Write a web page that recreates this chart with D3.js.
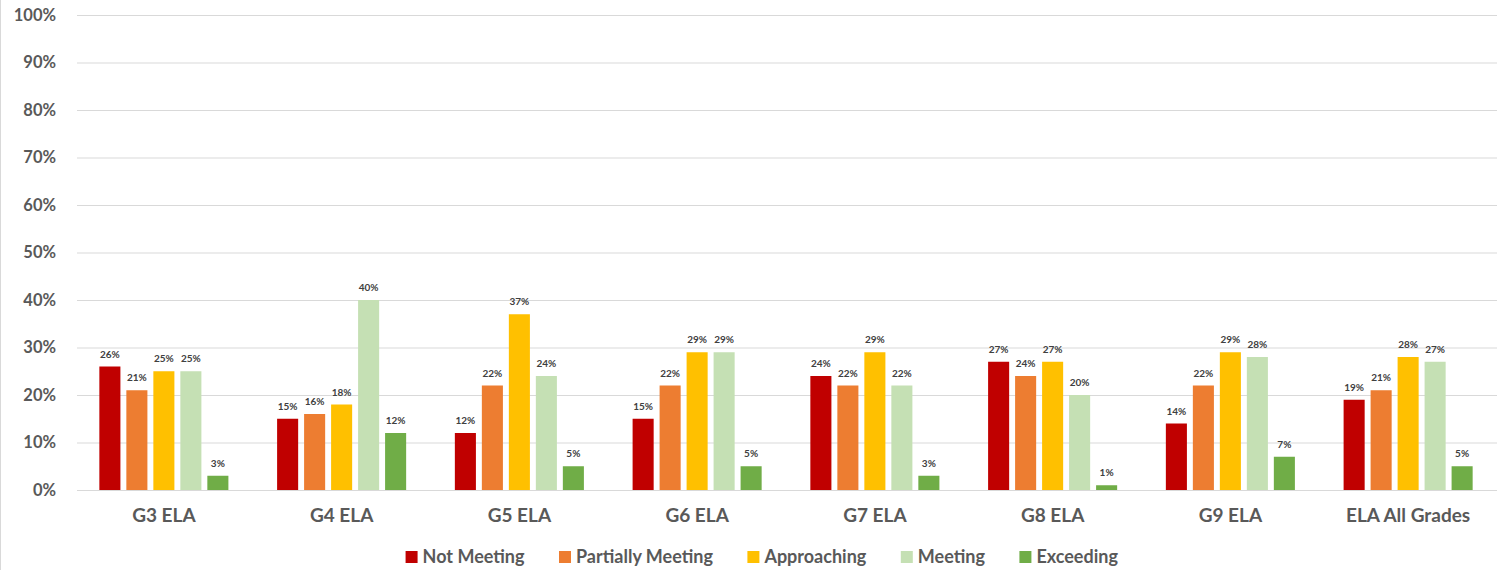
<!DOCTYPE html>
<html>
<head>
<meta charset="utf-8">
<script src="https://cdn.jsdelivr.net/npm/d3@7"></script>
<style>
  html, body { margin: 0; padding: 0; background: #ffffff; }
  svg { display: block; font-family: Lato, "Open Sans", sans-serif; }
</style>
</head>
<body>
<svg id="chart" width="1497" height="570"></svg>
<script>
// Grade-level ELA performance, percent of students in each band
const categories = ["G3 ELA", "G4 ELA", "G5 ELA", "G6 ELA", "G7 ELA", "G8 ELA", "G9 ELA", "ELA All Grades"];
const seriesNames = ["Not Meeting", "Partially Meeting", "Approaching", "Meeting", "Exceeding"];
const seriesColors = ["#C00000", "#ED7D31", "#FFC000", "#C5E0B4", "#70AD47"];

const notMeeting       = [26, 15, 12, 15, 24, 27, 14, 19];
const partiallyMeeting = [21, 16, 22, 22, 22, 24, 22, 21];
const approaching      = [25, 18, 37, 29, 29, 27, 29, 28];
const meeting          = [25, 40, 24, 29, 22, 20, 28, 27];
const exceeding        = [3, 12, 5, 5, 3, 1, 7, 5];

const seriesValues = [notMeeting, partiallyMeeting, approaching, meeting, exceeding];
const yTicks = [0, 10, 20, 30, 40, 50, 60, 70, 80, 90, 100];

const svg = d3.select("#chart");
const W = 1497, H = 570;
const plot = { left: 75, right: 1497, top: 15, bottom: 490 };

// frame edge on the left
svg.append("line")
  .attr("x1", 0.5).attr("x2", 0.5).attr("y1", 0).attr("y2", H)
  .attr("stroke", "#d9d9d9").attr("stroke-width", 1);

const x0 = d3.scaleBand().domain(categories)
  .range([plot.left, plot.right]).paddingInner(0.274).paddingOuter(0.137);
const x1 = d3.scaleBand().domain(seriesNames)
  .range([0, x0.bandwidth()]).paddingInner(0.22).paddingOuter(0);
const y = d3.scaleLinear().domain([0, 100]).range([plot.bottom, plot.top]);

// gridlines + y labels
const yAxis = d3.axisLeft(y).tickValues(yTicks)
  .tickFormat(d => d + "%").tickSize(-(plot.right - 77)).tickPadding(21);
const yg = svg.append("g").attr("transform", `translate(77,0)`).call(yAxis);
yg.select(".domain").remove();
yg.selectAll(".tick line").attr("stroke", "#d9d9d9").attr("stroke-width", 1);
yg.selectAll(".tick text")
  .attr("fill", "#595959").attr("font-size", 16.5).attr("font-weight", 700)
  .attr("font-family", "Lato, sans-serif");

// bars
const groups = svg.append("g").selectAll("g.cat")
  .data(categories).join("g")
  .attr("class", "cat")
  .attr("transform", d => `translate(${x0(d)},0)`);

groups.each(function(cat, ci) {
  const g = d3.select(this);
  const rows = seriesNames.map((s, si) => ({ s, si, v: seriesValues[si][ci] }));
  g.selectAll("rect").data(rows).join("rect")
    .attr("x", d => x1(d.s))
    .attr("y", d => y(d.v))
    .attr("width", x1.bandwidth())
    .attr("height", d => y(0) - y(d.v))
    .attr("fill", d => seriesColors[d.si]);
  g.selectAll("text.val").data(rows).join("text")
    .attr("class", "val")
    .attr("x", d => x1(d.s) + x1.bandwidth() / 2)
    .attr("y", d => y(d.v) - 9)
    .attr("text-anchor", "middle")
    .attr("font-size", 10).attr("font-weight", 700)
    .attr("fill", "#404040")
    .text(d => d.v + "%");
});

// category labels
const xAxis = d3.axisBottom(x0).tickSize(0).tickPadding(0);
const xg = svg.append("g").attr("transform", `translate(0,${plot.bottom})`).call(xAxis);
xg.select(".domain").remove();
xg.selectAll(".tick text")
  .attr("dy", null).attr("y", 32)
  .attr("fill", "#595959").attr("font-size", 19).attr("font-weight", 700)
  .attr("font-family", "Lato, sans-serif");

// legend
const legend = svg.append("g");
const items = legend.selectAll("g.item").data(seriesNames).join("g").attr("class", "item");
items.append("rect")
  .attr("width", 12).attr("height", 12).attr("y", -12)
  .attr("fill", (d, i) => seriesColors[i]);
items.append("text")
  .attr("x", 17).attr("y", 0)
  .attr("font-size", 18).attr("font-weight", 700).attr("fill", "#595959")
  .text(d => d);
let cursor = 0;
items.each(function() {
  const w = this.getBBox().width;
  d3.select(this).attr("transform", `translate(${cursor},0)`);
  cursor += w + 34;
});
const totalW = cursor - 34;
legend.attr("transform", `translate(${762 - totalW / 2},563)`);
</script>
</body>
</html>
